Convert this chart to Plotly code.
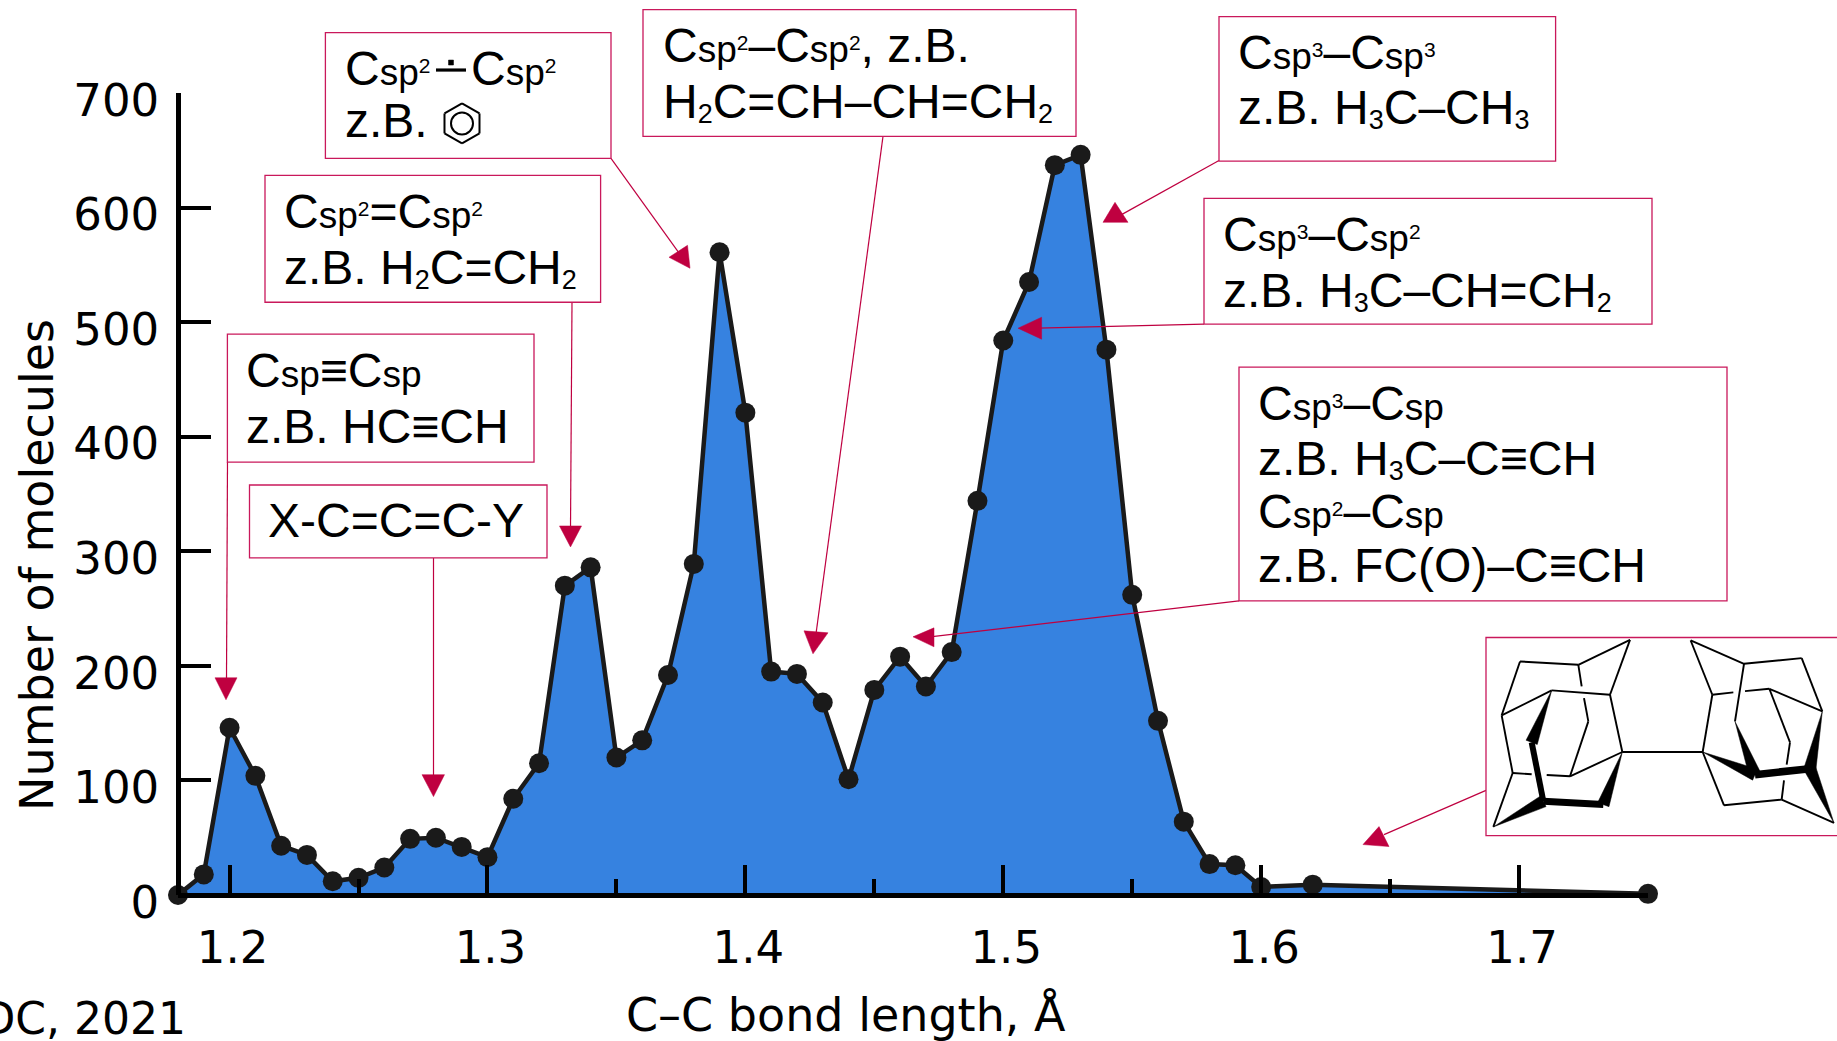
import plotly.graph_objects as go

# ---------- data ----------
bond_length = [1.18, 1.19, 1.20, 1.21, 1.22, 1.23, 1.24, 1.25, 1.26, 1.27, 1.28, 1.29, 1.30,
               1.31, 1.32, 1.33, 1.34, 1.35, 1.36, 1.37, 1.38, 1.39, 1.40, 1.41, 1.42, 1.43,
               1.44, 1.45, 1.46, 1.47, 1.48, 1.49, 1.50, 1.51, 1.52, 1.53, 1.54, 1.55, 1.56,
               1.57, 1.58, 1.59, 1.60, 1.62, 1.75]
molecules = [0, 18, 146, 104, 43, 35, 12, 15, 24, 49, 50, 42, 33,
             84, 115, 270, 286, 120, 135, 192, 289, 561, 421, 195, 193, 168,
             101, 179, 208, 182, 212, 344, 484, 535, 637, 646, 476, 262, 152,
             64, 27, 26, 7, 9, 1]
x_ticks = [1.2, 1.3, 1.4, 1.5, 1.6, 1.7]
y_ticks = [0, 100, 200, 300, 400, 500, 600, 700]
x_title = "C–C bond length, Å"
y_title = "Number of molecules"
source_note = "CCDC, 2021"

# ---------- geometry helpers ----------
W, H = 1837, 1041
L, R, T, B = 178, 1648, 92.5, 895.5
FILL = "#3682e0"
INK = "#1a1a1a"
RED = "#bf0040"
BOX_FONT = "Liberation Sans"
BOX_SIZE = 48
AXIS_W = 4.5


def px(x):
    return (x - L) / (R - L)


def py(y):
    return 1 - (y - T) / (B - T)


def path(points, close=True):
    s = "M " + " L ".join(f"{px(a):.5f},{py(b):.5f}" for a, b in points)
    return s + (" Z" if close else "")


shapes = []


def add_line(a, b, width=1.2, color=RED):
    shapes.append(dict(type="path", path=path([a, b], close=False), xref="paper", yref="paper",
                       line=dict(color=color, width=width), layer="above"))


def add_poly(points, color=RED):
    shapes.append(dict(type="path", path=path(points), xref="paper", yref="paper",
                       fillcolor=color, line=dict(color=color, width=0.5), layer="above"))


def add_box(x0, y0, x1, y1):
    shapes.append(dict(type="rect", xref="paper", yref="paper", x0=px(x0), x1=px(x1),
                       y0=py(y1), y1=py(y0), fillcolor="white",
                       line=dict(color="#c9185b", width=1.3), layer="above"))


annotations = []


def sp(n=""):
    s = '<span style="font-size:37px">sp</span>'
    if n:
        s += f'<span style="font-size:28px"><sup><span style="font-size:21px">{n}</span></sup></span>'
    return s


def sub(n):
    return f'<span style="font-size:26px"><sub><span style="font-size:27px">{n}</span></sub></span>'


def add_text(x, baseline, text, has_sub=False, dy=0, size=BOX_SIZE, font=BOX_FONT):
    # yanchor bottom: the box bottom sits below the baseline by the font descent
    drop = size * 0.21 - 1.5
    if has_sub:
        drop = size * 0.36 + 3
    annotations.append(dict(x=px(x - 2.5), y=py(baseline + drop + dy), xref="paper", yref="paper",
                            xanchor="left", yanchor="bottom", showarrow=False, text=text,
                            align="left", borderpad=0,
                            font=dict(family=font, size=size, color="black")))


# ---------- arrows (drawn before the boxes) ----------
add_line((227.5, 462), (226.5, 680))
add_poly([(215, 678), (237, 678), (226, 700)])
add_line((572, 302), (570.5, 528))
add_poly([(559.5, 526), (581.5, 526), (570.5, 547)])
add_line((433.5, 558), (433.5, 778))
add_poly([(422, 775), (444.5, 775), (433.5, 797)])
add_line((611, 158), (680, 254))
add_poly([(669, 257), (687.5, 245), (690, 268)])
add_line((883, 136), (816, 634))
add_poly([(804, 631), (828, 633), (813, 654)])
add_line((1219, 160), (1122, 214))
add_poly([(1115, 202), (1103, 222), (1128, 222)])
add_line((1204, 324), (1038, 328))
add_poly([(1018, 328), (1041.6, 317), (1041.6, 339)])
add_line((1239, 601), (930, 637))
add_poly([(913, 637), (934, 628), (934, 647)])
add_line((1486, 790.7), (1384, 835))
add_poly([(1379, 827), (1363, 845), (1389, 847)])

# ---------- boxes ----------
add_box(227.4, 334, 534, 462)
add_box(265, 175, 600.6, 302)
add_box(325.4, 32, 611, 158)
add_box(249.5, 485, 547, 558)
add_box(643, 9, 1076, 136)
add_box(1219, 16, 1555.6, 160.7)
add_box(1204, 198, 1652, 324)
add_box(1239, 367, 1727, 601)
add_box(1486, 637.7, 1900, 836)

# ---------- box texts ----------
add_text(247, 387, f"C{sp()}≡C{sp()}", dy=2.3)
add_text(247, 441.7, "z.B. HC≡CH", dy=4.0)
add_text(285, 228, f"C{sp('2')}=C{sp('2')}", dy=2.3)
add_text(285, 281.7, f"z.B. H{sub('2')}C=CH{sub('2')}", has_sub=True, dy=-5.8)
add_text(346, 85, f"C{sp('2')}", dy=2.3)
add_text(472, 85, f"C{sp('2')}", dy=2.3)
add_text(346, 138, "z.B.", dy=1)
add_text(269.5, 539, "X-C=C=C-Y")
add_text(664, 61.7, f"C{sp('2')}–C{sp('2')}, z.B.", dy=2.3)
add_text(664, 115, f"H{sub('2')}C=CH–CH=CH{sub('2')}", has_sub=True, dy=-5.8)
add_text(1239.6, 69, f"C{sp('3')}–C{sp('3')}", dy=2.3)
add_text(1239.6, 122.7, f"z.B. H{sub('3')}C–CH{sub('3')}", has_sub=True, dy=-7)
add_text(1224, 250.7, f"C{sp('3')}–C{sp('2')}", dy=2.3)
add_text(1224, 304, f"z.B. H{sub('3')}C–CH=CH{sub('2')}", has_sub=True, dy=-5.8)
add_text(1259, 420, f"C{sp('3')}–C{sp()}", dy=2.3)
add_text(1259, 473, f"z.B. H{sub('3')}C–C≡CH", has_sub=True, dy=-5.8)
add_text(1259, 527.7, f"C{sp('2')}–C{sp()}", dy=2.3)
add_text(1259, 581.7, "z.B. FC(O)–C≡CH", dy=3.0)

# delocalised bond in the benzene box
add_line((436, 69.5), (466, 69.5), width=3.2, color="black")
add_poly([(448.5, 59.5), (453.5, 59.5), (453.5, 64.5), (448.5, 64.5)], color="black")

# benzene icon
hx, hy = 462, 123
add_line((hx, hy - 20), (hx + 17.5, hy - 10), 2, "black")
add_line((hx + 17.5, hy - 10), (hx + 17.5, hy + 10), 2, "black")
add_line((hx + 17.5, hy + 10), (hx, hy + 20), 2, "black")
add_line((hx, hy + 20), (hx - 17.5, hy + 10), 2, "black")
add_line((hx - 17.5, hy + 10), (hx - 17.5, hy - 10), 2, "black")
add_line((hx - 17.5, hy - 10), (hx, hy - 20), 2, "black")
shapes.append(dict(type="circle", xref="paper", yref="paper", x0=px(hx - 11), x1=px(hx + 11),
                   y0=py(hy + 11), y1=py(hy - 11), line=dict(color="black", width=2),
                   layer="above"))


# ---------- molecule (crop coordinates of the drawing, 3x) ----------
def m(p):
    return (1460 + p[0] / 3, 620 + p[1] / 3)


def bond(a, b, w=1.9):
    add_line(m(a), m(b), w, "black")


def wedge(thin, thick, half=14):
    dx, dy = thick[0] - thin[0], thick[1] - thin[1]
    n = (dx * dx + dy * dy) ** 0.5
    ox, oy = -dy / n * half, dx / n * half
    add_poly([m(thin), m((thick[0] + ox, thick[1] + oy)), m((thick[0] - ox, thick[1] - oy))], "black")


A, Bb, C, D, E, F, G = (510, 60), (355, 135), (180, 125), (125, 287), (275, 212), (450, 225), (487, 397)
Hh, I, J, K, Ll, M, N = (158, 460), (330, 470), (385, 305), (215, 368), (250, 545), (430, 555), (100, 622)
for a, b in [(A, Bb), (A, F), (Bb, C), (C, D), (D, E), (E, F), (F, G), (D, Hh), (I, G), (I, J),
             (Hh, N), (Hh, (215, 464)), ((260, 466), I),
             (Bb, (365, 200)), ((372, 235), J)]:
    bond(a, b)
wedge(E, K, 18)
wedge(G, M, 18)
wedge(N, Ll, 18)
bond(K, Ll, 6)
bond(Ll, M, 7)

A2, B2, C2, D2, E2, F2, G2 = (692, 62), (852, 132), (1025, 115), (1087, 275), (928, 207), (757, 225), (728, 397)
H2, I2, J2, K2, L2, M2, N2 = (1050, 447), (885, 465), (825, 305), (990, 368), (965, 540), (792, 557), (1122, 610)
for a, b in [(A2, B2), (A2, F2), (B2, C2), (C2, D2), (D2, E2), (F2, (820, 218)), ((855, 214), E2),
             (F2, G2), (B2, J2), (G2, M2), (M2, L2), (L2, N2), (E2, K2), (K2, (980, 435)),
             ((972, 482), L2), (G, G2)]:
    bond(a, b)
wedge(J2, I2, 18)
wedge(G2, I2, 18)
wedge(D2, H2, 18)
wedge(N2, H2, 18)
bond(I2, H2, 7.5)

# ---------- figure ----------
fig = go.Figure()
fig.add_trace(go.Scatter(x=bond_length, y=molecules, mode="lines+markers", fill="tozeroy",
                         fillcolor=FILL, cliponaxis=False,
                         line=dict(color=INK, width=4.5),
                         marker=dict(color=INK, size=20), showlegend=False))

annotations.append(dict(x=px(188), y=py(1047), xref="paper", yref="paper", xanchor="right",
                        yanchor="bottom", showarrow=False, text=source_note,
                        font=dict(family="DejaVu Sans", size=44, color="black")))
annotations.append(dict(x=px(846), y=py(1045), xref="paper", yref="paper", xanchor="center",
                        yanchor="bottom", showarrow=False, text=x_title,
                        font=dict(family="DejaVu Sans", size=46, color="black")))
annotations.append(dict(x=px(37), y=py(565), xref="paper", yref="paper", xanchor="center",
                        yanchor="middle", showarrow=False, text=y_title, textangle=-90,
                        font=dict(family="DejaVu Sans", size=46, color="black")))

tick_font = dict(family="DejaVu Sans", size=45, color="black")
fig.update_layout(
    width=W, height=H, autosize=False,
    margin=dict(l=L, r=W - R, t=T, b=H - B, pad=0),
    paper_bgcolor="white", plot_bgcolor="white",
    font=dict(family="DejaVu Sans", color="black"),
    shapes=shapes, annotations=annotations,
    xaxis=dict(range=[1.18, 1.75], tickvals=x_ticks, ticktext=[f"{v:.1f}" for v in x_ticks],
               anchor="free", position=0,
               ticks="inside", ticklen=28, tickwidth=4, tickcolor="black",
               showline=True, linecolor="black", linewidth=AXIS_W, zeroline=False, showgrid=False,
               tickfont=tick_font, ticklabelstandoff=11, ticklabelshift=3,
               minor=dict(tickvals=[1.25, 1.35, 1.45, 1.55, 1.65, 1.75], ticks="inside",
                          ticklen=14, tickwidth=4, tickcolor="black", showgrid=False)),
    yaxis=dict(range=[0, 700], tickvals=y_ticks, ticks="inside", ticklen=30, tickwidth=4,
               anchor="free", position=0,
               tickcolor="black", showline=True, linecolor="black", linewidth=AXIS_W,
               zeroline=False, showgrid=False, tickfont=tick_font, ticklabelstandoff=8,
               ticklabelshift=7),
)

fig.write_html("out.html", config={"displayModeBar": False},
               post_script="document.body.style.margin='0';document.body.style.overflow='hidden';")
